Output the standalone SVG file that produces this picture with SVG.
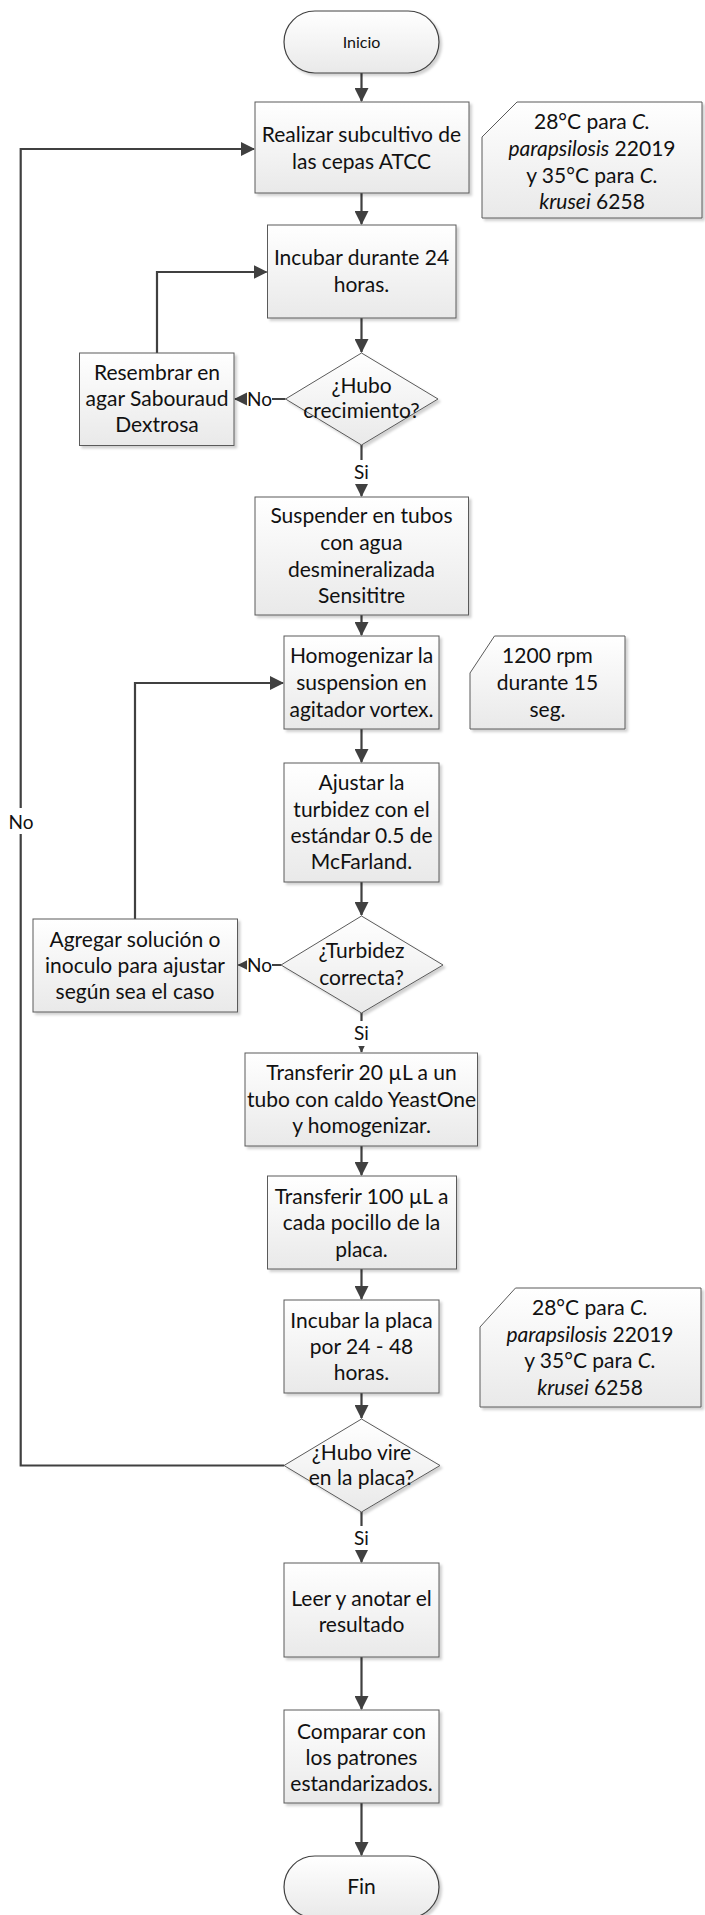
<svg xmlns="http://www.w3.org/2000/svg" width="705" height="1915" viewBox="0 0 705 1915">
<style>
.box{fill:url(#g);stroke:#5a5a5a;stroke-width:1;filter:url(#sh)}
.term{fill:url(#g);stroke:#404040;stroke-width:1.2;filter:url(#sh)}
.c{fill:none;stroke:#404040;stroke-width:2.2}
.t{font-family:Lato,"Open Sans",sans-serif;font-size:21px;fill:#111;text-anchor:middle}
.lbl{font-family:Lato,"Open Sans",sans-serif;font-size:19px;fill:#111;text-anchor:middle}
.bg{fill:#fff}
</style>
<defs>
<linearGradient id="g" x1="0" y1="0" x2="0" y2="1">
<stop offset="0" stop-color="#ffffff"/>
<stop offset="1" stop-color="#e9e9e9"/>
</linearGradient>
<filter id="sh" x="-10%" y="-10%" width="130%" height="130%">
<feDropShadow dx="2.5" dy="2.5" stdDeviation="1" flood-color="#000" flood-opacity="0.18"/>
</filter>
<marker id="a" markerUnits="userSpaceOnUse" markerWidth="14" markerHeight="14" viewBox="0 0 14 14" refX="13" refY="7" orient="auto">
<path d="M0,0 L14,7 L0,14 z" fill="#404040"/>
</marker>
<marker id="as" markerUnits="userSpaceOnUse" markerWidth="8" markerHeight="8" viewBox="0 0 8 8" refX="7.5" refY="4" orient="auto">
<path d="M0,0 L8,4 L0,8 z" fill="#404040"/>
</marker>
</defs>

<g id="connectors">
<path class="c" d="M361.5,73 V101" marker-end="url(#a)"/>
<path class="c" d="M361.5,193 V224" marker-end="url(#a)"/>
<path class="c" d="M361.5,318 V352" marker-end="url(#a)"/>
<path class="c" d="M285.5,399 H235" marker-end="url(#a)"/>
<path class="c" d="M157,353 V272 H266.5" marker-end="url(#a)"/>
<path class="c" d="M361.5,445 V496" marker-end="url(#a)"/>
<path class="c" d="M361.5,615 V635" marker-end="url(#a)"/>
<path class="c" d="M135,919 V683 H283" marker-end="url(#a)"/>
<path class="c" d="M361.5,729 V762" marker-end="url(#a)"/>
<path class="c" d="M361.5,882 V915" marker-end="url(#a)"/>
<path class="c" d="M281,965 H238.5" marker-end="url(#a)"/>
<path class="c" d="M361.5,1013 V1052" marker-end="url(#as)"/>
<path class="c" d="M361.5,1146 V1175" marker-end="url(#a)"/>
<path class="c" d="M361.5,1269 V1299" marker-end="url(#a)"/>
<path class="c" d="M361.5,1393 V1418" marker-end="url(#a)"/>
<path class="c" d="M284,1465.5 H20.7 V149 H254" marker-end="url(#a)"/>
<path class="c" d="M361.5,1512 V1562" marker-end="url(#a)"/>
<path class="c" d="M361.5,1657 V1709" marker-end="url(#a)"/>
<path class="c" d="M361.5,1803 V1855" marker-end="url(#a)"/>
<rect class="bg" x="247" y="388" width="25" height="22"/>
<text class="lbl" x="259.5" y="406">No</text>
<rect class="bg" x="247" y="954" width="25" height="22"/>
<text class="lbl" x="259.5" y="972">No</text>
<rect class="bg" x="8" y="808" width="26" height="26"/>
<text class="lbl" x="21" y="829">No</text>
<rect class="bg" x="350" y="460" width="24" height="24"/>
<text class="lbl" x="361.5" y="479">Si</text>
<rect class="bg" x="350" y="1021" width="24" height="25"/>
<text class="lbl" x="361.5" y="1040">Si</text>
<rect class="bg" x="350" y="1526" width="24" height="24"/>
<text class="lbl" x="361.5" y="1545">Si</text>
</g>

<g id="inicio">
<rect class="term" x="284" y="11" width="155" height="62" rx="31"/>
<text class="t" x="361.5" y="48" style="font-size:16px">Inicio</text>
</g>

<g id="subcultivo">
<rect class="box" x="255" y="102" width="214" height="91"/>
<text class="t" x="361.5" y="142">Realizar subcultivo de</text>
<text class="t" x="361.5" y="169">las cepas ATCC</text>
</g>

<g id="nota1">
<polygon class="box" points="482,137 517,102 702,102 702,218 482,218"/>
<text class="t" x="592" y="129">28°C para <tspan font-style="italic">C.</tspan></text>
<text class="t" x="592" y="156"><tspan font-style="italic">parapsilosis</tspan> 22019</text>
<text class="t" x="592" y="183">y 35°C para <tspan font-style="italic">C.</tspan></text>
<text class="t" x="592" y="209"><tspan font-style="italic">krusei</tspan> 6258</text>
</g>

<g id="incubar24">
<rect class="box" x="267.5" y="225" width="188.5" height="93"/>
<text class="t" x="361.5" y="265">Incubar durante 24</text>
<text class="t" x="361.5" y="292">horas.</text>
</g>

<g id="crecimiento">
<polygon class="box" points="361.5,353 438,399 361.5,445 285.5,399"/>
<text class="t" x="361.5" y="393">¿Hubo</text>
<text class="t" x="361.5" y="418">crecimiento?</text>
</g>

<g id="resembrar">
<rect class="box" x="79.5" y="353" width="154.5" height="92.5"/>
<text class="t" x="157" y="380">Resembrar en</text>
<text class="t" x="157" y="406">agar Sabouraud</text>
<text class="t" x="157" y="432">Dextrosa</text>
</g>

<g id="suspender">
<rect class="box" x="255" y="497" width="213.5" height="118"/>
<text class="t" x="361.5" y="523">Suspender en tubos</text>
<text class="t" x="361.5" y="550">con agua</text>
<text class="t" x="361.5" y="577">desmineralizada</text>
<text class="t" x="361.5" y="603">Sensititre</text>
</g>

<g id="homogenizar">
<rect class="box" x="284" y="636" width="155" height="93"/>
<text class="t" x="361.5" y="663">Homogenizar la</text>
<text class="t" x="361.5" y="690">suspension en</text>
<text class="t" x="361.5" y="717">agitador vortex.</text>
</g>

<g id="nota2">
<polygon class="box" points="470,673 494.5,636 625,636 625,729 470,729"/>
<text class="t" x="547.5" y="663">1200 rpm</text>
<text class="t" x="547.5" y="690">durante 15</text>
<text class="t" x="547.5" y="717">seg.</text>
</g>

<g id="ajustar">
<rect class="box" x="284" y="763" width="155" height="119"/>
<text class="t" x="361.5" y="790">Ajustar la</text>
<text class="t" x="361.5" y="817">turbidez con el</text>
<text class="t" x="361.5" y="843">estándar 0.5 de</text>
<text class="t" x="361.5" y="869">McFarland.</text>
</g>

<g id="turbidez">
<polygon class="box" points="361.5,916 443,965 361.5,1013 281,965"/>
<text class="t" x="361.5" y="958">¿Turbidez</text>
<text class="t" x="361.5" y="985">correcta?</text>
</g>

<g id="agregar">
<rect class="box" x="33" y="919" width="204.5" height="93"/>
<text class="t" x="135" y="947">Agregar solución o</text>
<text class="t" x="135" y="973">inoculo para ajustar</text>
<text class="t" x="135" y="999">según sea el caso</text>
</g>

<g id="transferir20">
<rect class="box" x="245" y="1053" width="232.5" height="93"/>
<text class="t" x="361.5" y="1080">Transferir 20 µL a un</text>
<text class="t" x="361.5" y="1107">tubo con caldo YeastOne</text>
<text class="t" x="361.5" y="1133">y homogenizar.</text>
</g>

<g id="transferir100">
<rect class="box" x="267.5" y="1176" width="189" height="93"/>
<text class="t" x="361.5" y="1204">Transferir 100 µL a</text>
<text class="t" x="361.5" y="1230">cada pocillo de la</text>
<text class="t" x="361.5" y="1257">placa.</text>
</g>

<g id="incubarplaca">
<rect class="box" x="284" y="1300" width="155" height="93"/>
<text class="t" x="361.5" y="1328">Incubar la placa</text>
<text class="t" x="361.5" y="1354">por 24 - 48</text>
<text class="t" x="361.5" y="1380">horas.</text>
</g>

<g id="nota3">
<polygon class="box" points="480,1327 515.5,1288 701,1288 701,1407 480,1407"/>
<text class="t" x="590" y="1315">28°C para <tspan font-style="italic">C.</tspan></text>
<text class="t" x="590" y="1342"><tspan font-style="italic">parapsilosis</tspan> 22019</text>
<text class="t" x="590" y="1368">y 35°C para <tspan font-style="italic">C.</tspan></text>
<text class="t" x="590" y="1395"><tspan font-style="italic">krusei</tspan> 6258</text>
</g>

<g id="vire">
<polygon class="box" points="361.5,1419 440,1465.5 361.5,1512 284,1465.5"/>
<text class="t" x="361.5" y="1460">¿Hubo vire</text>
<text class="t" x="361.5" y="1485">en la placa?</text>
</g>

<g id="leer">
<rect class="box" x="284" y="1563" width="155" height="94"/>
<text class="t" x="361.5" y="1606">Leer y anotar el</text>
<text class="t" x="361.5" y="1632">resultado</text>
</g>

<g id="comparar">
<rect class="box" x="284" y="1710" width="155" height="93"/>
<text class="t" x="361.5" y="1739">Comparar con</text>
<text class="t" x="361.5" y="1765">los patrones</text>
<text class="t" x="361.5" y="1791">estandarizados.</text>
</g>

<g id="fin">
<rect class="term" x="284" y="1856" width="155" height="62" rx="31"/>
<text class="t" x="361.5" y="1894">Fin</text>
</g>
</svg>
